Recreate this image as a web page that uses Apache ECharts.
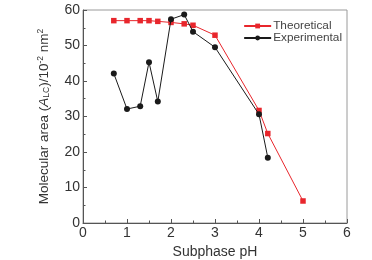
<!DOCTYPE html>
<html>
<head>
<meta charset="utf-8">
<script src="https://cdn.jsdelivr.net/npm/echarts@6/dist/echarts.min.js"></script>
<style>
  html, body { margin: 0; padding: 0; background: #fff; }
  #chart { width: 372px; height: 260px; }
</style>
</head>
<body>
<div id="chart"></div>
<script>
// valores
const phTheo = [0.7, 1.0, 1.3, 1.5, 1.7, 2.0, 2.3, 2.5, 3.0, 4.0, 4.2, 5.0];
const areaTheo = [57.0, 57.0, 57.0, 57.0, 56.8, 56.5, 56.1, 55.7, 52.9, 31.7, 25.2, 6.2];
const phExp = [0.7, 1.0, 1.3, 1.5, 1.7, 2.0, 2.3, 2.5, 3.0, 4.0, 4.2];
const areaExp = [42.1, 32.1, 32.9, 45.3, 34.2, 57.4, 58.7, 53.9, 49.5, 30.6, 18.4];
const xTicks = [0, 1, 2, 3, 4, 5, 6];
const yTicks = [0, 10, 20, 30, 40, 50, 60];

function pairs(xs, ys) {
    return xs.map((x, i) => [x, ys[i]]);
}

var chartDom = document.getElementById('chart');
var myChart = echarts.init(chartDom, null, { renderer: 'canvas' });
var font = 'Liberation Sans, Arial, sans-serif';
var axisColor = '#555';
var txt = '#333';

var option = {
    animation: false,
    textStyle: { fontFamily: font },
    grid: {
        left: 83, right: 25, top: 10, bottom: 37,
        outerBoundsMode: 'none',
        containLabel: false,
        show: true, borderColor: '#9a9a9a', borderWidth: 1
    },
    legend: {
        data: ['Theoretical', 'Experimental'],
        orient: 'vertical',
        right: 25,
        top: 15,
        itemWidth: 27,
        itemHeight: 6,
        itemGap: 0,
        textStyle: { fontFamily: font, fontSize: 11.8, color: '#444', padding: [0, 0, 0, -3] }
    },
    xAxis: {
        type: 'value',
        min: xTicks[0],
        max: xTicks[xTicks.length - 1],
        interval: 1,
        name: 'Subphase pH',
        nameLocation: 'middle',
        nameGap: 19,
        nameTextStyle: { fontFamily: font, fontSize: 14, color: txt },
        axisLine: { lineStyle: { color: axisColor, width: 1 } },
        axisTick: { inside: true, length: 4, lineStyle: { color: axisColor } },
        minorTick: { show: true, splitNumber: 2, length: 2.5, lineStyle: { color: axisColor } },
        axisLabel: { fontFamily: font, fontSize: 14, color: txt, margin: 3 },
        splitLine: { show: false }
    },
    yAxis: {
        type: 'value',
        min: yTicks[0],
        max: yTicks[yTicks.length - 1],
        interval: 10,
        name: '{n|Molecular area (}{i|A}{s|LC}{n|)/10}{u|-2}{n| nm}{u|2}',
        nameLocation: 'middle',
        nameGap: 31,
        nameTextStyle: {
            fontFamily: font, color: txt,
            rich: {
                n: { fontSize: 13.5, color: txt, fontFamily: font },
                i: { fontSize: 13.5, color: txt, fontFamily: font, fontStyle: 'italic' },
                s: { fontSize: 8.5, color: txt, fontFamily: font, padding: [6, 0, 0, 0] },
                u: { fontSize: 8.5, color: txt, fontFamily: font, padding: [0, 0, 7, 0] }
            }
        },
        axisLine: { show: true, lineStyle: { color: axisColor, width: 1 } },
        axisTick: { show: true, inside: true, length: 4, lineStyle: { color: axisColor } },
        minorTick: { show: true, splitNumber: 2, length: 2.5, lineStyle: { color: axisColor } },
        axisLabel: { fontFamily: font, fontSize: 14, color: txt, margin: 3 },
        splitLine: { show: false }
    },
    series: [
        {
            name: 'Theoretical',
            type: 'line',
            data: pairs(phTheo, areaTheo),
            symbol: 'rect',
            symbolSize: 5.5,
            lineStyle: { color: '#e8262c', width: 1 },
            itemStyle: { color: '#e8262c' },
            z: 2
        },
        {
            name: 'Experimental',
            type: 'line',
            data: pairs(phExp, areaExp),
            symbol: 'circle',
            symbolSize: 6,
            lineStyle: { color: '#1a1a1a', width: 1 },
            itemStyle: { color: '#1a1a1a' },
            z: 3
        }
    ]
};

myChart.setOption(option);
</script>
</body>
</html>
